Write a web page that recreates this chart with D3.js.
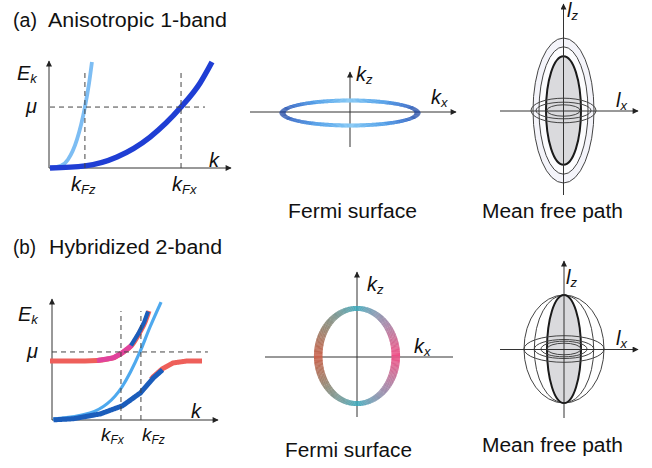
<!DOCTYPE html>
<html><head><meta charset="utf-8">
<script src="https://cdn.jsdelivr.net/npm/d3@7"></script>
<style>
body{margin:0;background:#fff}
svg{display:block}
text{font-family:"Liberation Sans",Arial,Helvetica,sans-serif;fill:#111}
.it{font-style:italic}
</style>
</head><body>
<svg id="c" width="652" height="468"></svg>
<script>
// ---------------- DATA ----------------
// Panel (a): anisotropic 1-band, [k, E] (normalised units)
const bandA_light = [[0,0],[0.06,0.02],[0.1,0.08],[0.15,0.27],[0.194,0.575],[0.217,0.8],[0.233,1.0]];
const bandA_dark  = [[0,0],[0.194,0.02],[0.372,0.104],[0.556,0.292],[0.728,0.575],[0.833,0.8],[0.9,1.0]];
const muA = 0.575, kFzA = 0.194, kFxA = 0.728;

// Panel (b): hybridized 2-band, [k, E]
const bandB_upper = [[-0.012,0.492],[0.2,0.492],[0.273,0.496],[0.37,0.517],[0.424,0.558],[0.485,0.625],[0.533,0.733],[0.564,0.817],[0.588,0.908]];
const bandB_light = [[0.006,0.008],[0.23,0.058],[0.424,0.275],[0.533,0.567],[0.594,0.775],[0.661,0.983]];
const bandB_lower = [[0.006,0.008],[0.127,0.017],[0.291,0.058],[0.424,0.125],[0.533,0.233],[0.612,0.358],[0.667,0.425],[0.733,0.475],[0.818,0.492],[0.909,0.492]];
const upperMagenta = [0.273, 0.485], upperBlue = [0.485, 0.6];
const lowerBlue = [0, 0.667], lowerRed = [0.6, 1];
const muB = 0.567, kFxB = 0.418, kFzB = 0.539;

// Fermi surfaces: semi-axes [kFx, kFz]
const fermiA = [1.0, 0.185];
const fermiB = [0.97, 1.19];

// Mean free path ellipses: [lx, lz]
const mfpA_vert  = [[3.05,7.25],[2.45,6.37],[1.75,5.43]];
const mfpA_horiz = [[3.25,1.23],[2.75,0.83],[1.67,0.57]];
const mfpB_vert  = [[4.0,5.4],[2.97,5.4],[1.7,5.4]];
const mfpB_horiz = [[4.0,1.33],[2.97,0.95],[2.3,0.78],[1.7,0.58]];

// ---------------- DRAW ----------------
const svg = d3.select('#c');
const defs = svg.append('defs');
defs.append('marker').attr('id','arr').attr('viewBox','0 0 10 10')
  .attr('refX',9).attr('refY',5).attr('markerWidth',7).attr('markerHeight',6)
  .attr('markerUnits','userSpaceOnUse').attr('orient','auto')
  .append('path').attr('d','M0,0L10,5L0,10z').attr('fill','#222');

function arrowLine(g,x1,y1,x2,y2,arrow=true){
  const l = g.append('line').attr('x1',x1).attr('y1',y1).attr('x2',x2).attr('y2',y2)
    .attr('stroke','#333').attr('stroke-width',1);
  if(arrow) l.attr('marker-end','url(#arr)');
}
function dash(g,x1,y1,x2,y2){
  g.append('line').attr('x1',x1).attr('y1',y1).attr('x2',x2).attr('y2',y2)
   .attr('stroke','#444').attr('stroke-width',1).attr('stroke-dasharray','5,4');
}
function label(g,x,y,main,sub,size=20,subSize=13,dy=4){
  const t = g.append('text').attr('x',x).attr('y',y).attr('class','it').attr('font-size',size);
  t.append('tspan').text(main);
  if(sub) t.append('tspan').attr('font-size',subSize).attr('dy',dy).text(sub);
  return t;
}
function plain(g,x,y,str,len,size=20){
  g.append('text').attr('x',x).attr('y',y).attr('font-size',size)
   .attr('textLength',len).attr('lengthAdjust','spacingAndGlyphs').text(str);
}
function segment(data, range){
  return data.filter(d=>d[0]>=range[0]-1e-9 && d[0]<=range[1]+1e-9);
}
function interpCurve(data){
  const out=[];
  for(let i=0;i<data.length-1;i++){
    const [k0,e0]=data[i],[k1,e1]=data[i+1];
    for(let j=0;j<20;j++){const t=j/20; out.push([k0+(k1-k0)*t, e0+(e1-e0)*t]);}
  }
  out.push(data[data.length-1]);
  return out;
}

// ---- Titles ----
plain(svg,13,27,'(a)',24);
plain(svg,48,27,'Anisotropic 1-band',179);
plain(svg,13,254,'(b)',23);
plain(svg,49,254,'Hybridized 2-band',173);

// ---- Panel (a) band ----
{
  const g = svg.append('g');
  const x = d3.scaleLinear().domain([0,1]).range([50,230]);
  const y = d3.scaleLinear().domain([0,1]).range([168,62]);
  arrowLine(g,x(0)-1,y(0),x(1)+1,y(0));
  arrowLine(g,x(0)-1,y(0),x(0)-1,y(1)-1);
  const line = d3.line().x(d=>x(d[0])).y(d=>y(d[1])).curve(d3.curveMonotoneX);
  g.append('path').attr('d',line(bandA_light)).attr('fill','none').attr('stroke','#7dbdf3').attr('stroke-width',3.8);
  g.append('path').attr('d',line(bandA_dark)).attr('fill','none').attr('stroke','#1f3ed4').attr('stroke-width',5.5);
  dash(g,x(0),y(muA),x(0.861),y(muA));
  dash(g,x(kFzA),y(0),x(kFzA),y(0.906));
  dash(g,x(kFxA),y(0),x(kFxA),y(0.906));
  label(g,17,80,'E','k',20,13,3);
  label(g,26,113,'μ',null,20);
  label(g,209,167,'k',null,20);
  label(g,71,191,'k','Fz',20,13,3);
  label(g,172,191,'k','Fx',20,13,3);
}

// ---- Panel (b) band ----
{
  const g = svg.append('g');
  const x = d3.scaleLinear().domain([0,1]).range([52,217]);
  const y = d3.scaleLinear().domain([0,1]).range([420,300]);
  arrowLine(g,x(0),y(0),x(1)+1,y(0));
  arrowLine(g,x(0),y(0),x(0),y(1)-1);
  const line = d3.line().x(d=>x(d[0])).y(d=>y(d[1])).curve(d3.curveMonotoneX);
  const red='#ee5f5a', mag='#e0439c', blue='#1b5dbb', lblue='#4ea9ee';
  const up = interpCurve(bandB_upper);
  g.append('path').attr('d',line(bandB_upper)).attr('fill','none').attr('stroke',red).attr('stroke-width',5);
  g.append('path').attr('d',line(segment(up,upperMagenta))).attr('fill','none').attr('stroke',mag).attr('stroke-width',5);
  g.append('path').attr('d',line(segment(up,upperBlue))).attr('fill','none').attr('stroke',blue).attr('stroke-width',4.2).attr('transform','translate(-1,0.5)');
  g.append('path').attr('d',line(bandB_light)).attr('fill','none').attr('stroke',lblue).attr('stroke-width',3.2);
  const lo = interpCurve(bandB_lower);
  g.append('path').attr('d',line(segment(lo,lowerRed))).attr('fill','none').attr('stroke',red).attr('stroke-width',5);
  g.append('path').attr('d',line(segment(lo,lowerBlue))).attr('fill','none').attr('stroke',blue).attr('stroke-width',5).attr('transform','translate(0.5,0.8)');
  dash(g,x(0),y(muB),x(0.945),y(muB));
  dash(g,x(kFxB),y(0),x(kFxB),y(0.908));
  dash(g,x(kFzB),y(0),x(kFzB),y(0.908));
  label(g,18,321,'E','k',20,13,3);
  label(g,27,358,'μ',null,20);
  label(g,191,418,'k',null,20);
  label(g,101,441,'k','Fx',19,12,3);
  label(g,142,441,'k','Fz',19,12,3);
}

// ---- Ring helper ----
function ring(g, sx, sy, kx, kz, wX, wZ, colorFn){
  const cx = sx(0), cy = sy(0);
  const rx = sx(kx)-cx, ry = cy-sy(kz);
  const N = 360;
  const ro=[rx+wX/2, ry+wZ/2], ri=[rx-wX/2, ry-wZ/2];
  for(let i=0;i<N;i++){
    const t0=2*Math.PI*i/N, t1=2*Math.PI*(i+1.3)/N;
    const p=[[cx+ro[0]*Math.cos(t0),cy-ro[1]*Math.sin(t0)],[cx+ro[0]*Math.cos(t1),cy-ro[1]*Math.sin(t1)],
             [cx+ri[0]*Math.cos(t1),cy-ri[1]*Math.sin(t1)],[cx+ri[0]*Math.cos(t0),cy-ri[1]*Math.sin(t0)]];
    g.append('path').attr('d','M'+p.join('L')+'Z').attr('fill',colorFn(t0*180/Math.PI));
  }
}

// ---- Fermi surface (a) ----
{
  const g = svg.append('g');
  const sx = d3.scaleLinear().domain([-1,1]).range([350-67.5,350+67.5]);
  const sy = d3.scaleLinear().domain([-1,1]).range([113+67.5,113-67.5]);
  const cA = d3.scaleLinear().domain([0,0.5,0.85,1]).range(['#86c9f5','#4f9ee8','#2762c6','#163f9e']).interpolate(d3.interpolateRgb);
  arrowLine(g,250,112,456,112);
  arrowLine(g,350,147,350,72);
  ring(g,sx,sy,fermiA[0],fermiA[1],6,4,a=>cA(Math.abs(Math.cos(a*Math.PI/180))));
  label(g,356,81,'k','z',20,13,3);
  label(g,431,104,'k','x',20,13,3);
  plain(g,288,218,'Fermi surface',129);
}

// ---- Fermi surface (b) ----
{
  const g = svg.append('g');
  const sx = d3.scaleLinear().domain([-1,1]).range([357-40,357+40]);
  const sy = d3.scaleLinear().domain([-1,1]).range([356+40,356-40]);
  const cB = d3.scaleLinear().domain([0,40,90,140,180,220,270,320,360])
    .range(['#ef4d86','#a786a8','#38a9bb','#8e8a78','#c8604b','#8e8a78','#38a9bb','#a786a8','#ef4d86'])
    .interpolate(d3.interpolateLab);
  arrowLine(g,265,357,453,357,false);
  arrowLine(g,357,417,357,272);
  ring(g,sx,sy,fermiB[0],fermiB[1],8.5,5,cB);
  label(g,367,291,'k','z',20,13,3);
  label(g,414,353,'k','x',20,13,3);
  plain(g,285,457,'Fermi surface',127);
}

// ---- Mean free path ----
function mfp(cx, cy, vert, horiz, fills, yTop, yBot, xL, xR, lzPos, lxPos, textY){
  const g = svg.append('g');
  const s = d3.scaleLinear().domain([0,1]).range([0,10]);
  vert.forEach((d,i)=>{
    g.append('ellipse').attr('cx',cx).attr('cy',cy).attr('rx',s(d[0])).attr('ry',s(d[1]))
     .attr('fill',fills[i]).attr('stroke', i===vert.length-1?'#1a1a1a':'#444')
     .attr('stroke-width', i===vert.length-1?2:1);
  });
  horiz.forEach(d=>{
    g.append('ellipse').attr('cx',cx).attr('cy',cy).attr('rx',s(d[0])).attr('ry',s(d[1]))
     .attr('fill','none').attr('stroke','#444').attr('stroke-width',1);
  });
  arrowLine(g,xL,cy+0.5,xR,cy+0.5);
  arrowLine(g,cx,yBot,cx,yTop);
  label(g,lzPos[0],lzPos[1],'l','z',20,13,3);
  label(g,lxPos[0],lxPos[1],'l','x',20,13,3);
  plain(g,482,textY,'Mean free path',141);
}
mfp(563.5,110.5,mfpA_vert,mfpA_horiz,['#f4f4fa','#fcfcfe','#dadadd'],4,195,500,638,[567,17],[616,107],218);
mfp(564,349,mfpB_vert,mfpB_horiz,['#ffffff','#ffffff','#dadadd'],261,418,500,638,[566,284],[616,345],452);
</script>
</body></html>
